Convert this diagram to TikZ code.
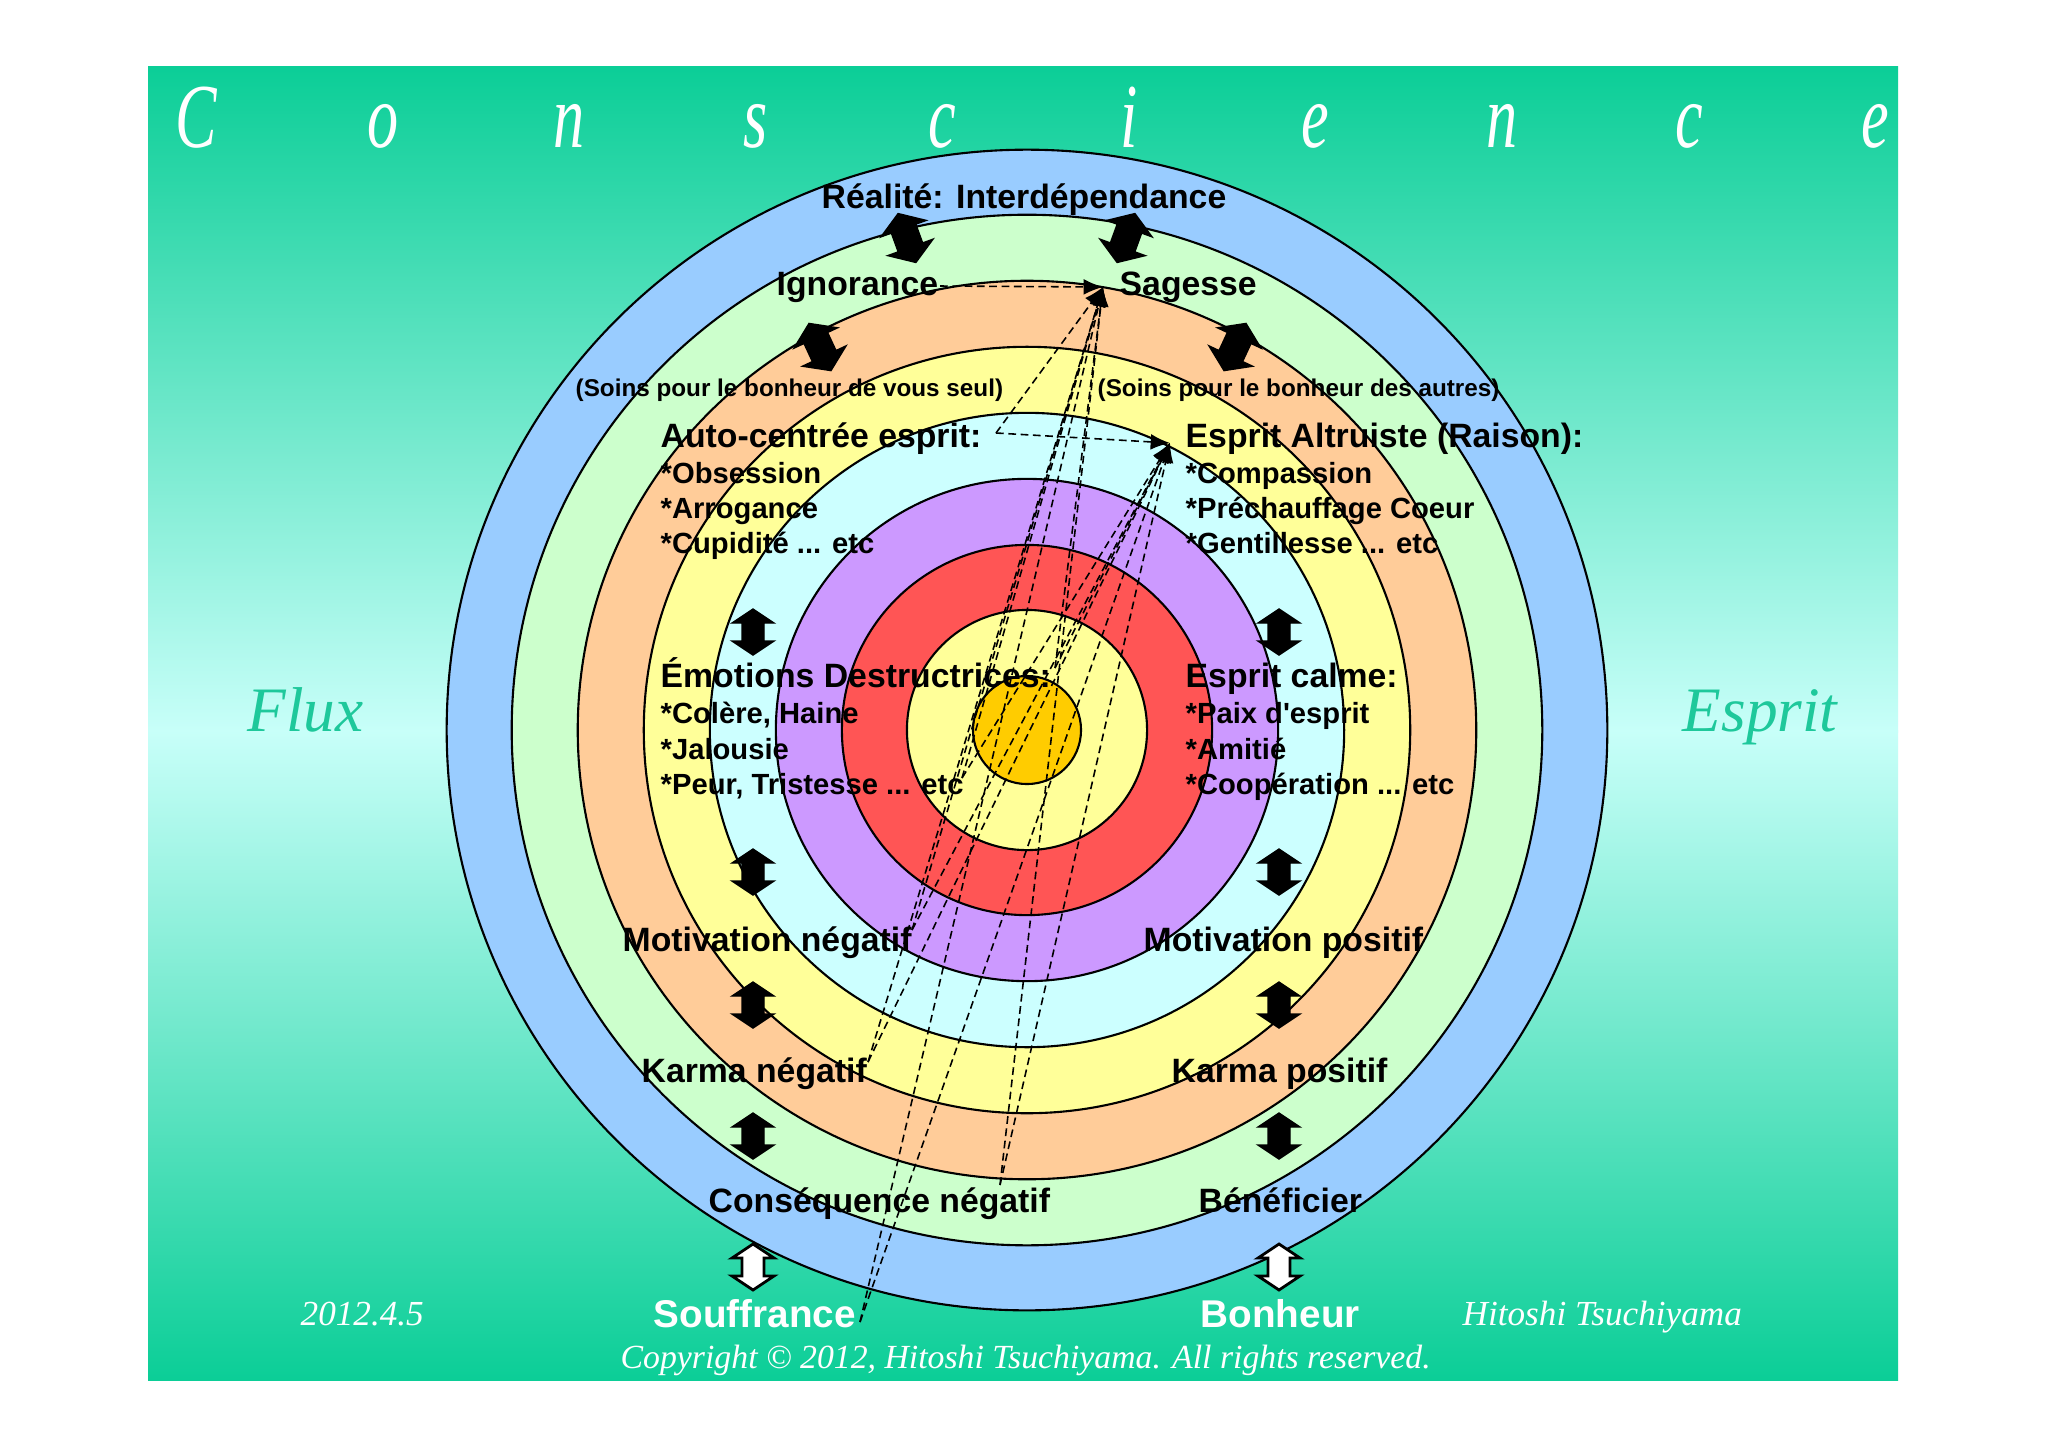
\documentclass[tikz,border=0pt]{standalone}
\usepackage{fontspec}
\usetikzlibrary{arrows.meta}
\newfontfamily\labf{Liberation Sans}
\newfontfamily\serf{Liberation Serif}
\newfontfamily\consf{Liberation Serif}[FakeStretch=0.68]
\definecolor{bgg}{HTML}{0BCE97}
\definecolor{bgc}{HTML}{C8FFF9}
\definecolor{rblue}{HTML}{99CCFF}
\definecolor{rgreen}{HTML}{CCFFCC}
\definecolor{rorange}{HTML}{FFCC99}
\definecolor{ryellow}{HTML}{FFFF99}
\definecolor{rcyan}{HTML}{CCFFFF}
\definecolor{rpurple}{HTML}{CC99FF}
\definecolor{rred}{HTML}{FF5555}
\definecolor{rgold}{HTML}{FFCC00}
\definecolor{teal}{HTML}{1EC89B}
\newcommand\vdarrow[3]{%
  \filldraw[#3] (#1,#2) ++(0,-23) -- ++(21,14) -- ++(-10,0) -- ++(0,18) -- ++(10,0)
    -- ++(-21,14) -- ++(-21,-14) -- ++(10,0) -- ++(0,-18) -- ++(-10,0) -- cycle;}
\newcommand\tdarrow[4]{%
  \begin{scope}[shift={(#1,#2)},rotate=#3]
  \filldraw[#4] (0,-26) -- (24,-10) -- (13,-10) -- (13,10) -- (24,10) -- (0,26)
    -- (-24,10) -- (-13,10) -- (-13,-10) -- (-24,-10) -- cycle;
  \end{scope}}
\begin{document}
\begin{tikzpicture}[x=0.01cm,y=-0.01cm,
  ring/.style={draw=black,line width=0.6pt},
  hd/.style={font=\labf\bfseries\fontsize{9.6}{11}\selectfont,inner sep=0,anchor=base west},
  itm/.style={font=\labf\bfseries\fontsize{8.3}{10}\selectfont,inner sep=0,anchor=base west},
  sml/.style={font=\labf\bfseries\fontsize{6.9}{8}\selectfont,inner sep=0,anchor=base west},
  big/.style={font=\labf\bfseries\fontsize{11}{13}\selectfont,inner sep=0,anchor=base west,text=white},
  cons/.style={font=\consf\itshape\fontsize{26}{30}\selectfont,inner sep=0,anchor=base,text=white},
  side/.style={font=\serf\itshape\fontsize{18}{22}\selectfont,inner sep=0,anchor=base west,text=teal},
  foot/.style={font=\serf\itshape\fontsize{10}{12}\selectfont,inner sep=0,anchor=base west,text=white},
  dsh/.style={draw=black,line width=0.45pt,dash pattern=on 2.2pt off 1.3pt,-{Latex[length=5.5pt,width=4.5pt]}},
  blk/.style={fill=black,draw=black,line width=0.4pt},
  wht/.style={fill=white,draw=black,line width=0.8pt}]
\useasboundingbox (0,0) rectangle (2048,1447);
\fill[white] (0,0) rectangle (2048,1447);
\shade[top color=bgg,bottom color=bgc] (148,66) rectangle (1898,732);
\shade[top color=bgc,bottom color=bgg] (148,730) rectangle (1898,1380);

% concentric rings
\coordinate (C) at (1027,730);
\filldraw[ring,fill=rblue]   (C) circle[radius=5.80cm];
\filldraw[ring,fill=rgreen]  (C) circle[radius=5.15cm];
\filldraw[ring,fill=rorange] (C) circle[radius=4.49cm];
\filldraw[ring,fill=ryellow] (C) circle[radius=3.83cm];
\filldraw[ring,fill=rcyan]   (C) circle[radius=3.17cm];
\filldraw[ring,fill=rpurple] (C) circle[radius=2.51cm];
\filldraw[ring,fill=rred]    (C) circle[radius=1.85cm];
\filldraw[ring,fill=ryellow] (C) circle[radius=1.20cm];
\filldraw[ring,fill=rgold]   (C) circle[radius=0.54cm];

% title letters
\foreach \l [count=\i from 0] in {C,o,n,s,c,i,e,n,c,e}
  \node[cons] (t\i) at ({196+186.6*\i},147) {\l};

\node[side] (flux) at (247,731) {Flux};
\node[side] (esp) at (1682,731) {Esprit};

% labels
\node[hd,anchor=base] (real) at (1024,208) {Réalité: Interdépendance};
\node[hd] (ign) at (776,295) {Ignorance};
\node[hd] (sag) at (1119,295) {Sagesse};
\node[sml] (soin1) at (575,396) {(Soins pour le bonheur de vous seul)};
\node[sml] (soin2) at (1097,396) {(Soins pour le bonheur des autres)};
\node[hd] (auto) at (660,447) {Auto-centrée esprit:};
\node[itm] (obs) at (660,483) {*Obsession};
\node[itm] (arr) at (660,518) {*Arrogance};
\node[itm] (cup) at (660,553) {*Cupidité ... etc};
\node[hd] (alt) at (1185,447) {Esprit Altruiste (Raison):};
\node[itm] (comp) at (1185,483) {*Compassion};
\node[itm] (pre) at (1185,518) {*Préchauffage Coeur};
\node[itm] (gen) at (1185,553) {*Gentillesse ... etc};
\node[hd] (emo) at (660,687) {Émotions Destructrices:};
\node[itm] (col) at (660,723) {*Colère, Haine};
\node[itm] (jal) at (660,759) {*Jalousie};
\node[itm] (peur) at (660,794) {*Peur, Tristesse ... etc};
\node[hd] (calme) at (1185,687) {Esprit calme:};
\node[itm] (paix) at (1185,723) {*Paix d'esprit};
\node[itm] (ami) at (1185,759) {*Amitié};
\node[itm] (coop) at (1185,794) {*Coopération ... etc};
\node[hd] (motn) at (622,951) {Motivation négatif};
\node[hd] (motp) at (1143,951) {Motivation positif};
\node[hd] (karn) at (641,1082) {Karma négatif};
\node[hd] (karp) at (1171,1082) {Karma positif};
\node[hd] (consn) at (708,1212) {Conséquence négatif};
\node[hd] (bene) at (1198,1212) {Bénéficier};
\node[big] (souf) at (653,1327) {Souffrance};
\node[big] (bonh) at (1200,1327) {Bonheur};

\node[foot] (date) at (300,1325) {2012.4.5};
\node[foot] (auth) at (1462,1325) {Hitoshi Tsuchiyama};
\node[foot,font=\serf\itshape\fontsize{9.6}{12}\selectfont] (copy) at (620,1368) {Copyright © 2012, Hitoshi Tsuchiyama. All rights reserved.};

% dashed connectors
\coordinate (A) at (1103,287);
\coordinate (B) at (1170,443);
\coordinate (pign) at (940,286);
\coordinate (pauto) at (996,433);
\coordinate (e1) at (1055,668);
\coordinate (e2) at (962,778);
\coordinate (e3) at (912,930);
\coordinate (e4) at (868,1062);
\coordinate (e5) at (1000,1185);
\coordinate (e6) at (860,1322);
\draw[dsh] (pign) -- (A);
\draw[dsh] (pauto) -- (B);
\draw[dsh] (pauto) -- (A);
\foreach \e in {e1,e2,e3,e4,e5,e6}{
  \draw[dsh] (\e) -- (A);
  \draw[dsh] (\e) -- (B);
}

% tilted arrows
\tdarrow{907}{238}{20}{blk}
\tdarrow{1126}{238}{-20}{blk}
\tdarrow{820}{347}{25}{blk}
\tdarrow{1235}{347}{-25}{blk}

% vertical arrows
\foreach \yy in {632,872,1005,1136}{
  \vdarrow{753}{\yy}{blk}
  \vdarrow{1279}{\yy}{blk}
}
\vdarrow{753}{1267}{wht}
\vdarrow{1279}{1267}{wht}
\end{tikzpicture}
\end{document}
